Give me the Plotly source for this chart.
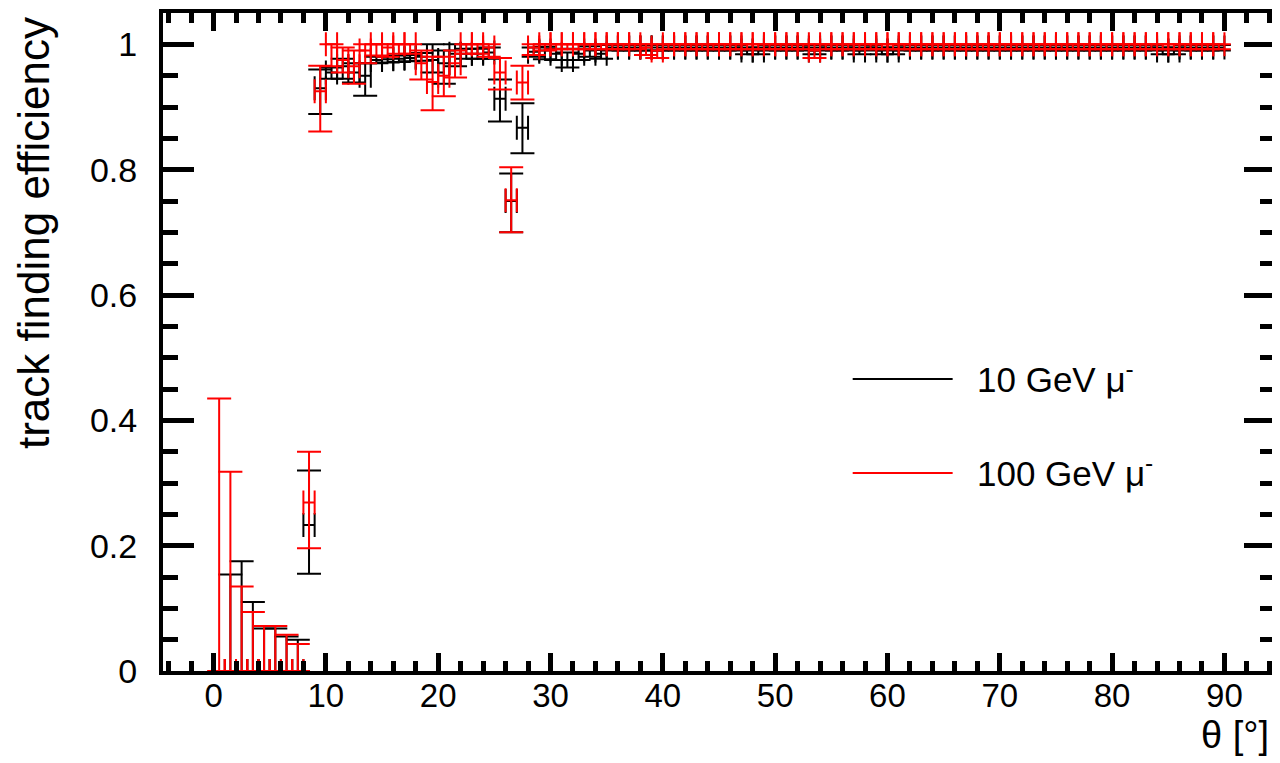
import plotly.graph_objects as go

# ---------------- data ----------------
# 100 GeV mu- : bins 0.5 ... 89.5 deg
red_theta = [0.5, 1.5, 2.5, 3.5, 4.5, 5.5, 6.5, 7.5, 8.5, 9.5,
             10.5, 11.5, 12.5, 13.5, 14.5, 15.5, 16.5, 17.5, 18.5, 19.5,
             20.5, 21.5, 22.5, 23.5, 24.5, 25.5, 26.5, 27.5, 28.5, 29.5,
             30.5, 31.5, 32.5, 33.5, 34.5, 35.5, 36.5, 37.5, 38.5, 39.5,
             40.5, 41.5, 42.5, 43.5, 44.5, 45.5, 46.5, 47.5, 48.5, 49.5,
             50.5, 51.5, 52.5, 53.5, 54.5, 55.5, 56.5, 57.5, 58.5, 59.5,
             60.5, 61.5, 62.5, 63.5, 64.5, 65.5, 66.5, 67.5, 68.5, 69.5,
             70.5, 71.5, 72.5, 73.5, 74.5, 75.5, 76.5, 77.5, 78.5, 79.5,
             80.5, 81.5, 82.5, 83.5, 84.5, 85.5, 86.5, 87.5, 88.5, 89.5]
red_eff = [0.0, 0.0, 0.0, 0.0, 0.0, 0.0, 0.0, 0.0, 0.269, 0.925,
           1.0, 0.975, 0.965, 0.99, 1.0, 0.995, 1.0, 1.0, 0.97, 0.94,
           0.95, 0.97, 1.0, 1.0, 0.995, 0.955, 0.751, 0.939, 0.995, 1.0,
           1.0, 1.0, 1.0, 1.0, 1.0, 1.0, 1.0, 1.0, 0.995, 0.99,
           1.0, 1.0, 1.0, 1.0, 1.0, 1.0, 1.0, 1.0, 1.0, 1.0,
           1.0, 1.0, 1.0, 0.99, 1.0, 1.0, 1.0, 1.0, 1.0, 1.0,
           1.0, 1.0, 1.0, 1.0, 1.0, 1.0, 1.0, 1.0, 1.0, 1.0,
           1.0, 1.0, 1.0, 1.0, 1.0, 1.0, 1.0, 1.0, 1.0, 1.0,
           1.0, 1.0, 1.0, 1.0, 1.0, 1.0, 1.0, 1.0, 1.0, 1.0]
red_err_up = [0.435, 0.318, 0.135, 0.094, 0.072, 0.072, 0.058, 0.043, 0.081, 0.041,
              0.0, 0.02, 0.025, 0.01, 0.0, 0.005, 0.0, 0.0, 0.02, 0.04,
              0.03, 0.02, 0.0, 0.0, 0.005, 0.023, 0.053, 0.027, 0.005, 0.0,
              0.0, 0.0, 0.0, 0.0, 0.0, 0.0, 0.0, 0.0, 0.005, 0.01,
              0.0, 0.0, 0.0, 0.0, 0.0, 0.0, 0.0, 0.0, 0.0, 0.0,
              0.0, 0.0, 0.0, 0.01, 0.0, 0.0, 0.0, 0.0, 0.0, 0.0,
              0.0, 0.0, 0.0, 0.0, 0.0, 0.0, 0.0, 0.0, 0.0, 0.0,
              0.0, 0.0, 0.0, 0.0, 0.0, 0.0, 0.0, 0.0, 0.0, 0.0,
              0.0, 0.0, 0.0, 0.0, 0.0, 0.0, 0.0, 0.0, 0.0, 0.0]
red_err_down = [0.0, 0.0, 0.0, 0.0, 0.0, 0.0, 0.0, 0.0, 0.073, 0.064,
                0.035, 0.02, 0.028, 0.02, 0.018, 0.015, 0.015, 0.015, 0.026, 0.045,
                0.033, 0.023, 0.015, 0.015, 0.015, 0.027, 0.051, 0.027, 0.012, 0.01,
                0.008, 0.008, 0.008, 0.008, 0.008, 0.008, 0.008, 0.008, 0.012, 0.012,
                0.008, 0.008, 0.008, 0.008, 0.008, 0.008, 0.008, 0.008, 0.008, 0.008,
                0.008, 0.008, 0.008, 0.012, 0.008, 0.008, 0.008, 0.008, 0.008, 0.008,
                0.008, 0.008, 0.008, 0.008, 0.008, 0.008, 0.008, 0.008, 0.008, 0.008,
                0.008, 0.008, 0.008, 0.008, 0.008, 0.008, 0.008, 0.008, 0.008, 0.008,
                0.008, 0.008, 0.008, 0.008, 0.008, 0.008, 0.008, 0.008, 0.008, 0.008]

# 10 GeV mu- : bins 1.5 ... 89.5 deg
black_theta = [1.5, 2.5, 3.5, 4.5, 5.5, 6.5, 7.5, 8.5, 9.5,
               10.5, 11.5, 12.5, 13.5, 14.5, 15.5, 16.5, 17.5, 18.5, 19.5,
               20.5, 21.5, 22.5, 23.5, 24.5, 25.5, 26.5, 27.5, 28.5, 29.5,
               30.5, 31.5, 32.5, 33.5, 34.5, 35.5, 36.5, 37.5, 38.5, 39.5,
               40.5, 41.5, 42.5, 43.5, 44.5, 45.5, 46.5, 47.5, 48.5, 49.5,
               50.5, 51.5, 52.5, 53.5, 54.5, 55.5, 56.5, 57.5, 58.5, 59.5,
               60.5, 61.5, 62.5, 63.5, 64.5, 65.5, 66.5, 67.5, 68.5, 69.5,
               70.5, 71.5, 72.5, 73.5, 74.5, 75.5, 76.5, 77.5, 78.5, 79.5,
               80.5, 81.5, 82.5, 83.5, 84.5, 85.5, 86.5, 87.5, 88.5, 89.5]
black_eff = [0.0, 0.0, 0.0, 0.0, 0.0, 0.0, 0.0, 0.233, 0.93,
             0.955, 0.965, 0.955, 0.95, 0.975, 0.976, 0.977, 0.978, 0.98, 0.975,
             0.97, 0.985, 0.985, 0.985, 0.987, 0.913, 0.75, 0.867, 0.988, 0.99,
             0.985, 0.975, 0.985, 0.99, 0.985, 0.995, 0.995, 0.995, 0.995, 0.995,
             0.995, 0.995, 0.995, 0.995, 0.995, 0.995, 0.995, 0.99, 0.99, 0.995,
             0.995, 0.995, 0.995, 0.99, 0.995, 0.995, 0.995, 0.99, 0.995, 0.99,
             0.99, 0.995, 0.995, 0.995, 0.995, 0.995, 0.995, 0.995, 0.995, 0.995,
             0.995, 0.995, 0.995, 0.995, 0.995, 0.995, 0.995, 0.995, 0.995, 0.995,
             0.995, 0.995, 0.995, 0.995, 0.99, 0.99, 0.995, 0.995, 0.995, 0.995]
black_err_up = [0.154, 0.175, 0.11, 0.068, 0.068, 0.055, 0.05, 0.087, 0.03,
                0.008, 0.012, 0.015, 0.02, 0.005, 0.005, 0.005, 0.005, 0.006, 0.025,
                0.02, 0.015, 0.008, 0.008, 0.008, 0.031, 0.044, 0.039, 0.007, 0.006,
                0.008, 0.012, 0.008, 0.007, 0.006, 0.004, 0.004, 0.004, 0.004, 0.004,
                0.004, 0.004, 0.004, 0.004, 0.004, 0.004, 0.004, 0.005, 0.005, 0.004,
                0.004, 0.004, 0.004, 0.005, 0.004, 0.004, 0.004, 0.005, 0.004, 0.005,
                0.005, 0.004, 0.004, 0.004, 0.004, 0.004, 0.004, 0.004, 0.004, 0.004,
                0.004, 0.004, 0.004, 0.004, 0.004, 0.004, 0.004, 0.004, 0.004, 0.004,
                0.004, 0.004, 0.004, 0.004, 0.005, 0.005, 0.004, 0.004, 0.004, 0.004]
black_err_down = [0.0, 0.0, 0.0, 0.0, 0.0, 0.0, 0.0, 0.078, 0.041,
                  0.01, 0.02, 0.016, 0.032, 0.005, 0.005, 0.005, 0.005, 0.006, 0.02,
                  0.033, 0.02, 0.008, 0.008, 0.01, 0.036, 0.05, 0.041, 0.008, 0.014,
                  0.01, 0.012, 0.01, 0.01, 0.008, 0.005, 0.005, 0.005, 0.005, 0.005,
                  0.005, 0.005, 0.005, 0.005, 0.005, 0.005, 0.005, 0.006, 0.006, 0.005,
                  0.005, 0.005, 0.005, 0.006, 0.005, 0.005, 0.005, 0.006, 0.005, 0.006,
                  0.006, 0.005, 0.005, 0.005, 0.005, 0.005, 0.005, 0.005, 0.005, 0.005,
                  0.005, 0.005, 0.005, 0.005, 0.005, 0.005, 0.005, 0.005, 0.005, 0.005,
                  0.005, 0.005, 0.005, 0.005, 0.006, 0.006, 0.005, 0.005, 0.005, 0.005]

bin_half_width = 0.5
series_names = ["10 GeV μ<sup>-</sup>", "100 GeV μ<sup>-</sup>"]
series_colors = ["black", "red"]
x_title = "θ [°]"
y_title = "track finding efficiency"

# ---------------- figure ----------------
# The page body has an 8 px margin; the figure starts at page pixel (8, 8),
# so it is sized to end at the page's right edge and positions are shifted.
PAGE_W, PAGE_H, OFF = 1280, 763, 8
W, H = PAGE_W - OFF, PAGE_H - OFF
# plot-area edges in page pixels
P_LEFT, P_RIGHT, P_TOP, P_BOTTOM = 163, 1275.5, 13, 671
ML = P_LEFT - OFF
MT = P_TOP - OFF
MR = W - (P_RIGHT - OFF)
MB = H - (P_BOTTOM - OFF)
PW, PH = W - ML - MR, H - MT - MB
FONT = "Liberation Sans, Arial, Helvetica, sans-serif"


def px_x(p):
    return (p - OFF - ML) / PW


def px_y(p):
    return (H - MB - (p - OFF)) / PH


fig = go.Figure()
for th, ef, eu, ed, col in [
    (black_theta, black_eff, black_err_up, black_err_down, series_colors[0]),
    (red_theta, red_eff, red_err_up, red_err_down, series_colors[1]),
]:
    fig.add_trace(go.Scatter(
        x=th, y=ef, mode="markers",
        marker=dict(size=1, color=col),
        error_x=dict(type="constant", value=bin_half_width, width=12,
                     thickness=2, color=col),
        error_y=dict(type="data", symmetric=False, array=eu, arrayminus=ed,
                     width=12, thickness=2, color=col),
        showlegend=False, cliponaxis=True, hoverinfo="skip",
    ))

axis_common = dict(
    showline=True, linewidth=4, linecolor="black", mirror="allticks",
    ticks="inside", tickcolor="black", tickwidth=5,
    showgrid=False, zeroline=False, automargin=False,
)
fig.update_xaxes(
    range=[-4.5, 94.5], tick0=0, dtick=10, ticklen=18,
    minor=dict(dtick=2, ticks="inside", ticklen=10, tickwidth=5, tickcolor="black", showgrid=False),
    tickfont=dict(family=FONT, size=33, color="black"),
    ticklabelstandoff=-8,
    **axis_common,
)
fig.update_yaxes(
    range=[0, 1.05], tick0=0, dtick=0.2, ticklen=31,
    minor=dict(dtick=0.05, ticks="inside", ticklen=15, tickwidth=5, tickcolor="black", showgrid=False),
    tickfont=dict(family=FONT, size=34, color="black"),
    ticklabelstandoff=15,
    **axis_common,
)

annotations = [
    dict(text=y_title, textangle=-90, xref="paper", yref="paper",
         x=px_x(34), y=px_y(15), xanchor="center", yanchor="top",
         showarrow=False, font=dict(family=FONT, size=44, color="black")),
    dict(text=x_title, xref="paper", yref="paper",
         x=px_x(1271), y=px_y(735), xanchor="right", yanchor="middle",
         showarrow=False, font=dict(family=FONT, size=38, color="black")),
]
shapes = []
for name, col, ly in zip(series_names, series_colors, [379, 473]):
    shapes.append(dict(type="line", xref="paper", yref="paper",
                       x0=px_x(853), x1=px_x(953), y0=px_y(ly), y1=px_y(ly),
                       line=dict(color=col, width=2)))
    annotations.append(dict(text=name, xref="paper", yref="paper",
                            x=px_x(975), y=px_y(ly - 2), xanchor="left", yanchor="middle",
                            showarrow=False, font=dict(family=FONT, size=35, color="black")))

fig.update_layout(
    width=W, height=H,
    margin=dict(l=ML, r=MR, t=MT, b=MB, pad=0),
    paper_bgcolor="white", plot_bgcolor="white",
    annotations=annotations, shapes=shapes,
    showlegend=False,
)

fig.write_html("out.html")
